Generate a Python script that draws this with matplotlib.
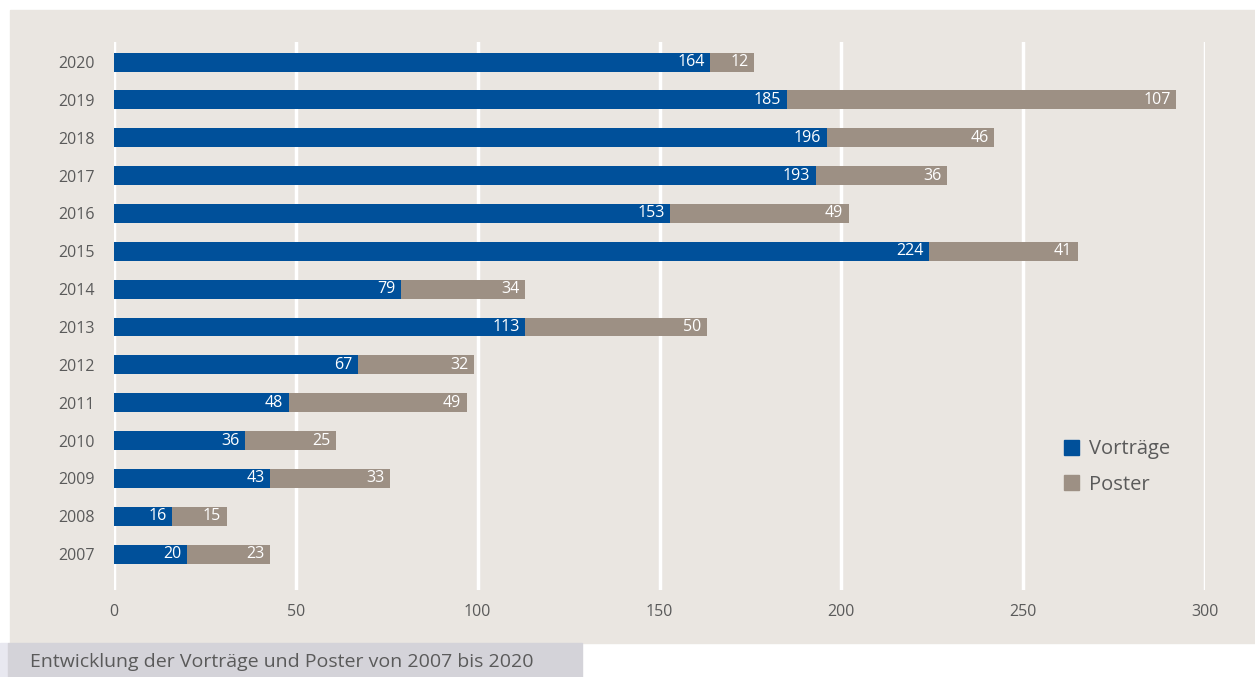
import matplotlib.pyplot as plt
from matplotlib.patches import Rectangle, Patch

# -----------------------------
# Data
# -----------------------------
years = ["2007", "2008", "2009", "2010", "2011", "2012", "2013",
         "2014", "2015", "2016", "2017", "2018", "2019", "2020"]
vortraege = [20, 16, 43, 36, 48, 67, 113, 79, 224, 153, 193, 196, 185, 164]
poster = [23, 15, 33, 25, 49, 32, 50, 34, 41, 49, 36, 46, 107, 12]
xticks = [0, 50, 100, 150, 200, 250, 300]
caption = "Entwicklung der Vorträge und Poster von 2007 bis 2020"

BLUE = "#00509a"
TAUPE = "#9d9084"
BG = "#eae6e1"
TEXT = "#5a5a5a"

plt.rcParams["font.family"] = ["Open Sans", "DejaVu Sans"]

# -----------------------------
# Figure
# -----------------------------
W, H = 1255, 677
fig = plt.figure(figsize=(W / 100, H / 100), dpi=100)
fig.patch.set_facecolor("white")

# background panel and caption strip (behind the axes)
fig.patches.append(Rectangle((10 / W, 1 - 643 / H), 1 - 10 / W, 633 / H,
                             transform=fig.transFigure, color=BG, zorder=-5))
fig.patches.append(Rectangle((0, 0), 8 / W, 34 / H,
                             transform=fig.transFigure, color="#e8e8f0", zorder=-5))
fig.patches.append(Rectangle((8 / W, 0), 574 / W, 34 / H,
                             transform=fig.transFigure, color="#d4d3d9", zorder=-5))
fig.text(30 / W, 1 - 662 / H, caption, fontsize=14, color=TEXT, va="center", ha="left")

ax = fig.add_axes([114 / W, 1 - 590 / H, (1205 - 114) / W, (590 - 42) / H])
ax.set_facecolor("none")

pos = list(range(len(years)))
ax.barh(pos, vortraege, height=0.5, color=BLUE, zorder=3)
ax.barh(pos, poster, left=vortraege, height=0.5, color=TAUPE, zorder=3)

for i in pos:
    ax.text(vortraege[i] - 1.5, i, str(vortraege[i]), color="white",
            fontsize=11.5, ha="right", va="center", zorder=4)
    ax.text(vortraege[i] + poster[i] - 1.5, i, str(poster[i]), color="white",
            fontsize=11.5, ha="right", va="center", zorder=4)

ax.set_xlim(0, 300)
ax.set_ylim(-0.95, 13.53)
ax.set_xticks(xticks)
ax.set_xticklabels([str(t) for t in xticks])
ax.set_yticks(pos)
ax.set_yticklabels(years)
ax.tick_params(axis="both", length=0, colors=TEXT, labelsize=11.5)
ax.tick_params(axis="x", pad=10)
ax.tick_params(axis="y", pad=14)
ax.grid(axis="x", color="white", linewidth=2.5, zorder=1)
ax.set_axisbelow(True)
for s in ax.spines.values():
    s.set_visible(False)

handles = [Patch(color=BLUE, label="Vorträge"), Patch(color=TAUPE, label="Poster")]
fig.legend(handles=handles, loc="center left", bbox_to_anchor=(1046 / W, 1 - 467 / H),
           frameon=False, fontsize=14.5, labelcolor=TEXT, handlelength=0.75,
           handleheight=0.75, handletextpad=0.5, labelspacing=0.75)

fig.savefig("out.png", dpi=100, facecolor=fig.get_facecolor())
